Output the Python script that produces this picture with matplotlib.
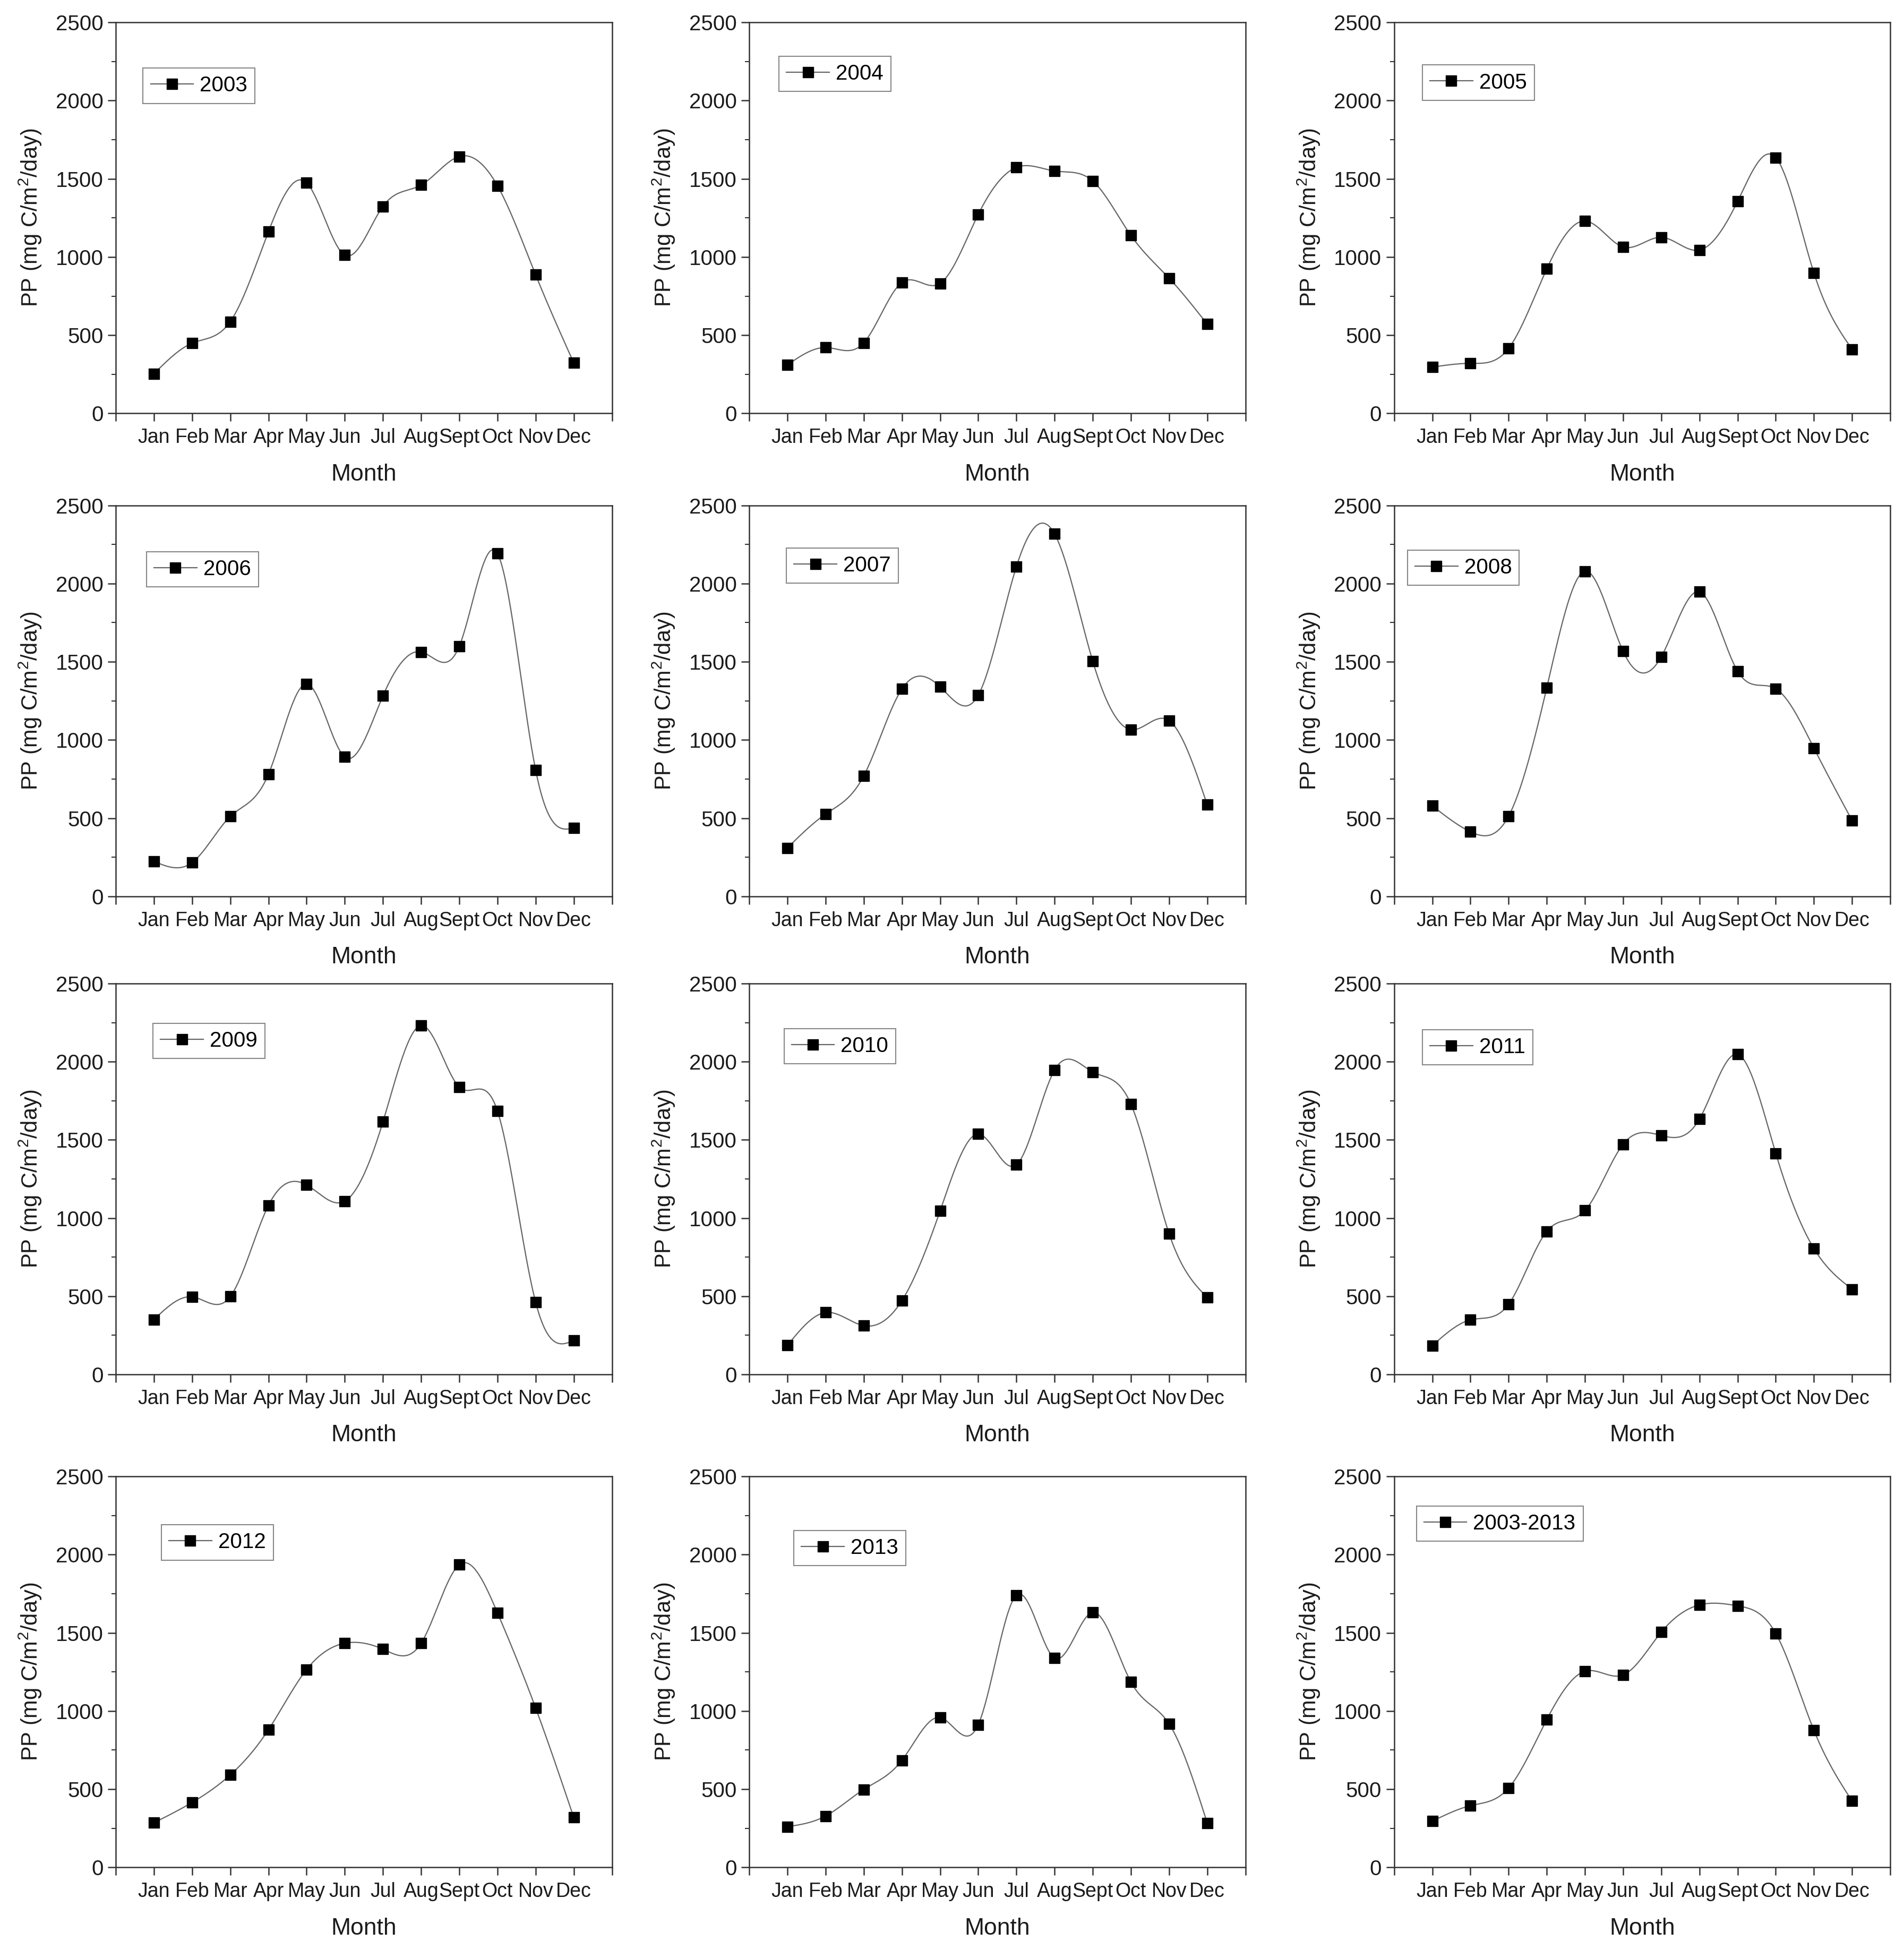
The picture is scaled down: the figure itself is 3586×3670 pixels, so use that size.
import numpy as np
import matplotlib
matplotlib.use("Agg")
import matplotlib.pyplot as plt
from matplotlib.lines import Line2D
from matplotlib.ticker import MultipleLocator

# monthly primary production (mg C/m2/day)
months = ["Jan", "Feb", "Mar", "Apr", "May", "Jun", "Jul", "Aug", "Sept", "Oct", "Nov", "Dec"]
month_pos = np.arange(1, 13)

labels = ["2003", "2004", "2005", "2006", "2007", "2008",
          "2009", "2010", "2011", "2012", "2013", "2003-2013"]

pp_2003 = [254, 449, 587, 1162, 1474, 1012, 1324, 1460, 1643, 1456, 887, 323]
pp_2004 = [310, 421, 451, 837, 831, 1272, 1573, 1550, 1486, 1138, 865, 571]
pp_2005 = [296, 320, 416, 924, 1230, 1064, 1126, 1044, 1356, 1636, 898, 410]
pp_2006 = [224, 216, 511, 781, 1358, 891, 1282, 1563, 1599, 2192, 809, 437]
pp_2007 = [310, 526, 770, 1326, 1340, 1286, 2108, 2318, 1504, 1066, 1124, 586]
pp_2008 = [579, 413, 513, 1334, 2079, 1567, 1532, 1947, 1440, 1328, 948, 485]
pp_2009 = [351, 496, 498, 1081, 1212, 1108, 1615, 2231, 1838, 1685, 463, 217]
pp_2010 = [186, 396, 312, 472, 1045, 1537, 1341, 1946, 1934, 1729, 901, 492]
pp_2011 = [184, 349, 449, 915, 1048, 1472, 1528, 1633, 2047, 1414, 805, 545]
pp_2012 = [285, 415, 591, 880, 1265, 1433, 1395, 1433, 1935, 1628, 1020, 319]
pp_2013 = [260, 328, 498, 684, 958, 912, 1740, 1338, 1630, 1186, 918, 284]
pp_mean = [295, 394, 507, 945, 1254, 1230, 1504, 1678, 1672, 1496, 876, 424]

series = [pp_2003, pp_2004, pp_2005, pp_2006, pp_2007, pp_2008,
          pp_2009, pp_2010, pp_2011, pp_2012, pp_2013, pp_mean]

# legend anchor inside each panel (axes fraction)
legend_anchor = [(0.055, 0.883), (0.060, 0.913), (0.057, 0.891),
                 (0.062, 0.882), (0.075, 0.891), (0.027, 0.885),
                 (0.075, 0.898), (0.070, 0.885), (0.057, 0.882),
                 (0.092, 0.876), (0.090, 0.862), (0.045, 0.924)]


def natural_spline(x, y, xs):
    # plain natural cubic spline, like Origin's "spline" connect
    x = np.asarray(x, float)
    y = np.asarray(y, float)
    n = len(x)
    h = np.diff(x)
    A = np.zeros((n, n))
    rhs = np.zeros(n)
    A[0, 0] = 1
    A[-1, -1] = 1
    for i in range(1, n - 1):
        A[i, i - 1] = h[i - 1]
        A[i, i] = 2 * (h[i - 1] + h[i])
        A[i, i + 1] = h[i]
        rhs[i] = 6 * ((y[i + 1] - y[i]) / h[i] - (y[i] - y[i - 1]) / h[i - 1])
    M = np.linalg.solve(A, rhs)
    idx = np.clip(np.searchsorted(x, xs) - 1, 0, n - 2)
    x0, x1 = x[idx], x[idx + 1]
    hi = x1 - x0
    a = (x1 - xs) / hi
    b = (xs - x0) / hi
    return (a * y[idx] + b * y[idx + 1]
            + ((a ** 3 - a) * M[idx] + (b ** 3 - b) * M[idx + 1]) * hi ** 2 / 6)


narrow = ["Liberation Sans Narrow", "Liberation Sans", "DejaVu Sans"]
regular = ["Liberation Sans", "DejaVu Sans"]
plt.rcParams["font.family"] = narrow
plt.rcParams["mathtext.fontset"] = "custom"
plt.rcParams["mathtext.rm"] = "Liberation Sans"
plt.rcParams["mathtext.it"] = "Liberation Sans"

fig = plt.figure(figsize=(35.87, 36.70), dpi=100)

lefts = [0.0608, 0.3934, 0.732]
bottoms = [0.7879, 0.5401, 0.2948, 0.0419]
w, h = 0.2605, 0.2006

line_col = "#666666"
spine_col = "#333333"
xs = np.linspace(1, 12, 400)

for k, (lab, vals) in enumerate(zip(labels, series)):
    r, c = divmod(k, 3)
    ax = fig.add_axes([lefts[c], bottoms[r], w, h])

    ax.plot(xs, natural_spline(month_pos, vals, xs), color=line_col, lw=1.6, zorder=2)
    ax.plot(month_pos, vals, "s", color="black", ms=15, zorder=3)

    ax.set_xlim(0, 13)
    ax.set_ylim(0, 2500)
    ax.set_xticks(np.arange(0, 14))
    ax.set_xticklabels([""] + months + [""])
    ax.yaxis.set_major_locator(MultipleLocator(500))
    ax.yaxis.set_minor_locator(MultipleLocator(250))
    ax.tick_params(axis="both", which="major", direction="out", length=11, width=1.8,
                   color=spine_col, labelsize=29, labelcolor="#1a1a1a", top=False, right=False)
    ax.tick_params(axis="y", which="minor", direction="out", length=6, width=1.5, color=spine_col)
    ax.tick_params(axis="x", pad=9, labelsize=27)
    ax.tick_params(axis="y", pad=6)

    for sp in ax.spines.values():
        sp.set_color(spine_col)
        sp.set_linewidth(1.8)

    ax.set_xlabel("Month", fontsize=32, labelpad=22, color="#1a1a1a")
    ax.set_ylabel("PP (mg C/m$^2$/day)", fontsize=30, labelpad=16,
                  family=regular, color="#1a1a1a")

    handle = Line2D([], [], color=line_col, lw=1.6, marker="s", ms=14,
                    mfc="black", mec="black")
    leg = ax.legend([handle], [lab], loc="upper left", bbox_to_anchor=legend_anchor[k],
                    borderaxespad=0, fancybox=False, framealpha=1, edgecolor="#888888",
                    fontsize=29, handlelength=2.0, handletextpad=0.3,
                    borderpad=0.35)
    leg.get_frame().set_linewidth(1.5)

fig.savefig("out.png", dpi=100, facecolor="white")
